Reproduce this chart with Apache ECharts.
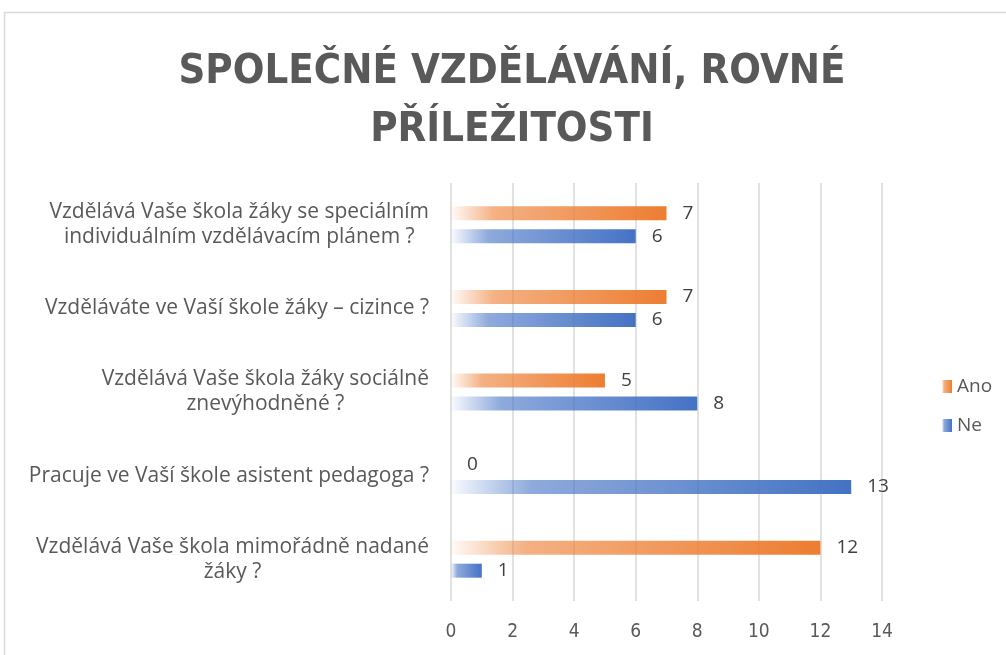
<!DOCTYPE html>
<html>
<head>
<meta charset="utf-8">
<script src="https://cdn.jsdelivr.net/npm/echarts@6/dist/echarts.min.js"></script>
<style>
html,body{margin:0;padding:0;background:#fff;}
#c{width:1006px;height:655px;}
</style>
</head>
<body>
<div id="c"></div>
<script>
const titleText = 'SPOLEČNÉ VZDĚLÁVÁNÍ, ROVNÉ\nPŘÍLEŽITOSTI';
const categories = [
  'Vzdělává Vaše škola žáky se speciálním\nindividuálním vzdělávacím plánem ?',
  'Vzděláváte ve Vaší škole žáky – cizince ?',
  'Vzdělává Vaše škola žáky sociálně\nznevýhodněné ?',
  'Pracuje ve Vaší škole asistent pedagoga ?',
  'Vzdělává Vaše škola mimořádně nadané\nžáky ?'
];
const seriesNames = ['Ano', 'Ne'];
const anoValues = [7, 7, 5, 0, 12];
const neValues = [6, 6, 8, 13, 1];
const xTicks = [0, 2, 4, 6, 8, 10, 12, 14];

function grad(r, g, b) {
  return new echarts.graphic.LinearGradient(0, 0, 1, 0, [
    {offset: 0, color: `rgba(${r},${g},${b},0.03)`},
    {offset: 0.2, color: `rgba(${r},${g},${b},0.6)`},
    {offset: 1, color: `rgba(${r},${g},${b},1)`}
  ]);
}
const FONT = '"Open Sans", Lato, sans-serif';
const COND = '"Liberation Sans Narrow", "DejaVu Sans Condensed", sans-serif';
const labelStyle = {
  show: true, position: 'right', distance: 16,
  fontSize: 19, color: '#404040', fontFamily: FONT
};

const chart = echarts.init(document.getElementById('c'), null, {renderer: 'canvas'});
chart.setOption({
  animation: false,
  backgroundColor: '#ffffff',
  title: {
    text: titleText,
    left: 507, top: 38, textAlign: 'center',
    textStyle: {
      fontFamily: COND,
      fontWeight: 'bold', fontSize: 41.5, color: '#595959', lineHeight: 58
    }
  },
  graphic: [{
    type: 'rect', silent: true, z: -1,
    shape: {x: 4.5, y: 12.5, width: 1020, height: 670},
    style: {fill: 'none', stroke: '#d9d9d9', lineWidth: 1.5}
  }],
  legend: {
    orient: 'vertical', left: 937, top: 372, itemGap: 20,
    icon: 'rect', itemWidth: 10, itemHeight: 13,
    textStyle: {fontFamily: FONT, fontSize: 19, color: '#595959'},
    data: seriesNames
  },
  grid: {left: 451, right: 124, top: 183, bottom: 54, containLabel: false},
  xAxis: {
    type: 'value', min: xTicks[0], max: xTicks[xTicks.length - 1], interval: 2,
    axisLine: {show: false}, axisTick: {show: false},
    splitLine: {show: true, lineStyle: {color: '#d9d9d9', width: 1.5}},
    axisLabel: {
      margin: 22, fontSize: 19, color: '#595959', fontFamily: COND
    }
  },
  yAxis: {
    type: 'category', inverse: true, data: categories,
    axisLine: {show: false}, axisTick: {show: false},
    axisLabel: {
      margin: 22, align: 'right',
      formatter: v => v.split('\n').map(l => '{c|' + l + '}').join('\n'),
      rich: {c: {align: 'center', fontFamily: FONT, fontSize: 21, color: '#595959', lineHeight: 25}}
    }
  },
  series: [
    {
      name: seriesNames[0], type: 'bar', data: anoValues,
      barWidth: 14, barGap: '64%',
      itemStyle: {color: grad(237, 125, 49)},
      label: labelStyle
    },
    {
      name: seriesNames[1], type: 'bar', data: neValues,
      barWidth: 14, barGap: '64%',
      itemStyle: {color: grad(68, 114, 196)},
      label: labelStyle
    }
  ]
});
</script>
</body>
</html>
